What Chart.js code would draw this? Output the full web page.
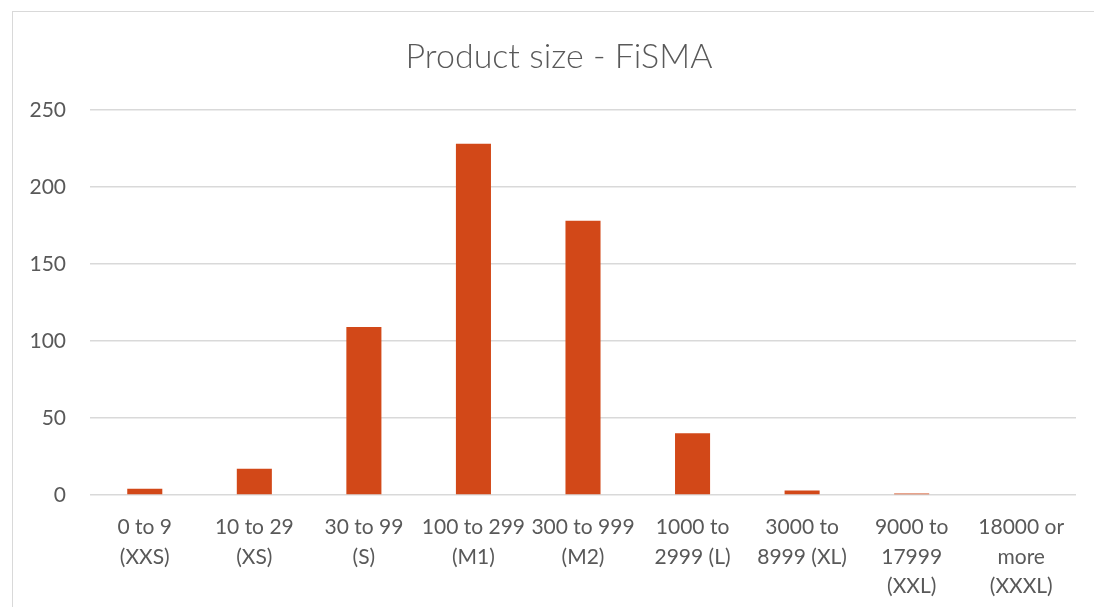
<!DOCTYPE html>
<html>
<head>
<meta charset="utf-8">
<script src="https://cdn.jsdelivr.net/npm/chart.js@4.4.1/dist/chart.umd.min.js"></script>
<style>
  html,body{margin:0;padding:0;background:#fff;}
  #wrap{position:relative;width:1094px;height:607px;overflow:hidden;}
  #frame{position:absolute;left:12px;top:11px;width:1200px;height:700px;border-left:1.5px solid #d9d9d9;border-top:1.5px solid #d9d9d9;}
  canvas{position:absolute;left:0;top:0;}
</style>
</head>
<body>
<div id="wrap">
  <div id="frame"></div>
  <canvas id="c" width="1094" height="607"></canvas>
</div>
<script>
const titleText = "Product size - FiSMA";
const categories = [
  ["0 to 9", "(XXS)"],
  ["10 to 29", "(XS)"],
  ["30 to 99", "(S)"],
  ["100 to 299", "(M1)"],
  ["300 to 999", "(M2)"],
  ["1000 to", "2999 (L)"],
  ["3000 to", "8999 (XL)"],
  ["9000 to", "17999", "(XXL)"],
  ["18000 or", "more", "(XXXL)"]
];
const counts = [4, 17, 109, 228, 178, 40, 3, 1, 0];
const yTicks = [0, 50, 100, 150, 200, 250];

const textColor = "#595959";
const gridColor = "#d9d9d9";
const barColor = "#d24818";

const titleShift = {
  id: "titleShift",
  afterLayout(chart) {
    const t = chart.titleBlock;
    if (t) { t.left += 28; }
  }
};

new Chart(document.getElementById("c"), {
  type: "bar",
  data: {
    labels: categories,
    datasets: [{
      label: "Count",
      data: counts,
      backgroundColor: barColor,
      borderWidth: 0,
      barPercentage: 0.32,
      categoryPercentage: 1.0
    }]
  },
  plugins: [titleShift],
  options: {
    responsive: false,
    animation: false,
    devicePixelRatio: 1,
    layout: { padding: { left: 14, right: 18, top: 0, bottom: 0 } },
    plugins: {
      legend: { display: false },
      tooltip: { enabled: false },
      title: {
        display: true,
        text: titleText,
        color: textColor,
        font: { family: "Lato", size: 34, weight: "300", lineHeight: 1.2 },
        padding: { top: 37, bottom: 32 }
      }
    },
    scales: {
      x: {
        grid: { display: false, drawTicks: false },
        border: { display: false },
        ticks: {
          color: textColor,
          font: { family: "Lato", size: 21, lineHeight: 1.4 },
          autoSkip: false,
          maxRotation: 0,
          minRotation: 0,
          padding: 18
        },
        afterFit: (s) => { s.height = 112; }
      },
      y: {
        min: 0,
        max: 250,
        afterBuildTicks: (s) => { s.ticks = yTicks.map(v => ({ value: v })); },
        grid: { color: gridColor, lineWidth: 1.5, drawTicks: false },
        border: { display: false },
        ticks: {
          color: textColor,
          font: { family: "Lato", size: 21 },
          padding: 24
        },
        afterFit: (s) => { s.width = 76; }
      }
    }
  }
});
</script>
</body>
</html>
